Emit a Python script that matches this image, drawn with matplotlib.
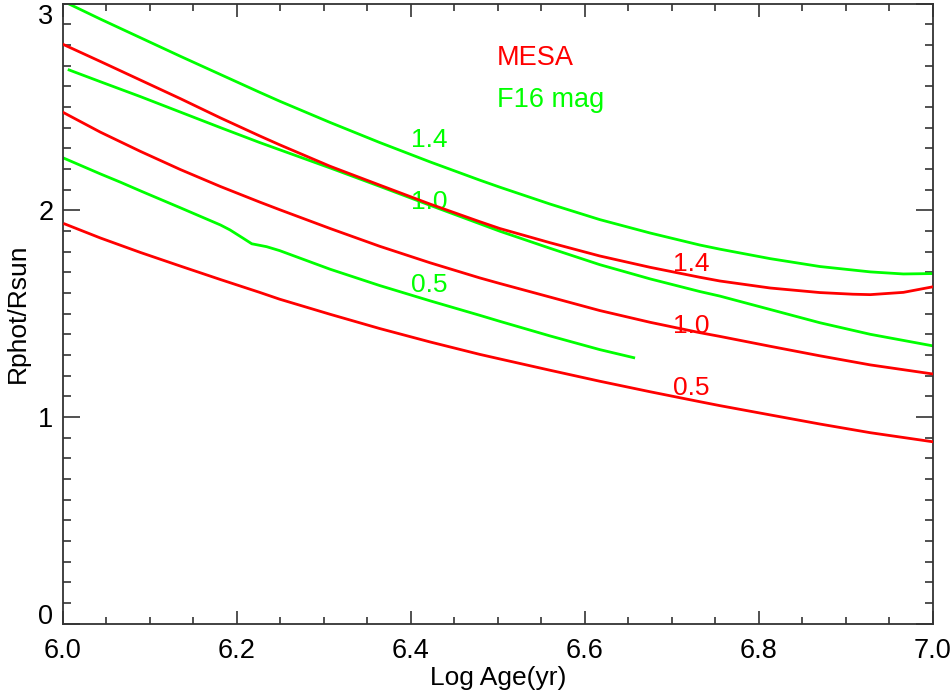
import matplotlib
matplotlib.use("Agg")
import matplotlib.pyplot as plt
from matplotlib.ticker import MultipleLocator, FixedLocator

plt.rcParams['font.family'] = ['Liberation Sans', 'DejaVu Sans']

# MESA tracks (red), log age vs Rphot/Rsun
mesa_14_x = [6.0, 6.043, 6.089, 6.135, 6.181, 6.226, 6.249, 6.307, 6.364, 6.422, 6.479,
             6.502, 6.560, 6.617, 6.675, 6.732, 6.755, 6.813, 6.870, 6.908, 6.928, 6.966, 7.0]
mesa_14_y = [2.803, 2.720, 2.630, 2.540, 2.447, 2.360, 2.317, 2.213, 2.122, 2.030, 1.945,
             1.912, 1.843, 1.779, 1.724, 1.676, 1.658, 1.624, 1.602, 1.594, 1.592, 1.603, 1.630]
mesa_10_x = [6.0, 6.043, 6.089, 6.135, 6.181, 6.226, 6.249, 6.307, 6.364, 6.422, 6.479,
             6.502, 6.560, 6.617, 6.675, 6.732, 6.755, 6.813, 6.870, 6.928, 7.0]
mesa_10_y = [2.474, 2.378, 2.285, 2.197, 2.115, 2.040, 2.003, 1.912, 1.826, 1.746, 1.673,
             1.646, 1.580, 1.515, 1.458, 1.408, 1.390, 1.342, 1.296, 1.252, 1.208]
mesa_05_x = [6.002, 6.043, 6.089, 6.135, 6.181, 6.226, 6.249, 6.307, 6.364, 6.422, 6.479,
             6.502, 6.560, 6.617, 6.675, 6.732, 6.755, 6.813, 6.870, 6.928, 7.0]
mesa_05_y = [1.934, 1.866, 1.796, 1.730, 1.665, 1.603, 1.570, 1.497, 1.428, 1.363, 1.303,
             1.281, 1.226, 1.173, 1.122, 1.074, 1.055, 1.010, 0.966, 0.924, 0.880]

# F16 magnetic tracks (green)
f16_14_x = [6.006, 6.043, 6.089, 6.135, 6.181, 6.226, 6.249, 6.307, 6.364, 6.422, 6.479,
            6.502, 6.560, 6.617, 6.675, 6.732, 6.755, 6.813, 6.870, 6.928, 6.966, 7.0]
f16_14_y = [3.000, 2.925, 2.835, 2.745, 2.657, 2.571, 2.528, 2.425, 2.328, 2.234, 2.146,
            2.112, 2.030, 1.955, 1.890, 1.832, 1.812, 1.766, 1.728, 1.702, 1.692, 1.694]
f16_10_x = [6.007, 6.043, 6.089, 6.135, 6.181, 6.226, 6.249, 6.307, 6.364, 6.422, 6.479,
            6.502, 6.560, 6.617, 6.675, 6.732, 6.755, 6.813, 6.870, 6.928, 7.0]
f16_10_y = [2.679, 2.622, 2.550, 2.475, 2.400, 2.328, 2.293, 2.205, 2.116, 2.024, 1.935,
            1.899, 1.816, 1.737, 1.668, 1.607, 1.585, 1.520, 1.456, 1.400, 1.344]
f16_05_x = [6.0, 6.043, 6.066, 6.089, 6.135, 6.181, 6.192, 6.207, 6.217, 6.234, 6.249,
            6.307, 6.364, 6.422, 6.479, 6.502, 6.560, 6.617, 6.656]
f16_05_y = [2.254, 2.176, 2.136, 2.094, 2.012, 1.929, 1.905, 1.865, 1.838, 1.824, 1.805,
            1.715, 1.636, 1.562, 1.492, 1.463, 1.392, 1.326, 1.287]

red = '#ff0000'
green = '#00ff00'

fig = plt.figure(figsize=(9.53, 6.92), dpi=100)
ax = fig.add_axes([0.0661, 0.0987, 0.9129, 0.8961])

for xs, ys in [(f16_14_x, f16_14_y), (f16_10_x, f16_10_y), (f16_05_x, f16_05_y)]:
    ax.plot(xs, ys, color=green, lw=2.0, zorder=2)
for xs, ys in [(mesa_14_x, mesa_14_y), (mesa_10_x, mesa_10_y), (mesa_05_x, mesa_05_y)]:
    ax.plot(xs, ys, color=red, lw=2.0, zorder=4)

# mass labels
for lab, y in [('1.4', 2.34), ('1.0', 2.04), ('0.5', 1.638)]:
    ax.text(6.4, y, lab, color=green, fontsize=19, va='center', zorder=3)
for lab, y in [('1.4', 1.74), ('1.0', 1.44), ('0.5', 1.14)]:
    ax.text(6.701, y, lab, color=red, fontsize=19, va='center', zorder=3)

ax.text(6.499, 2.737, 'MESA', color=red, fontsize=19.5, va='center')
ax.text(6.499, 2.534, 'F16 mag', color=green, fontsize=19.5, va='center')

ax.set_xlim(6.0, 7.0)
ax.set_ylim(0, 3)
ax.xaxis.set_major_locator(FixedLocator([6.0, 6.2, 6.4, 6.6, 6.8, 7.0]))
ax.xaxis.set_minor_locator(MultipleLocator(0.05))
ax.yaxis.set_major_locator(FixedLocator([0, 1, 2, 3]))
ax.yaxis.set_minor_locator(MultipleLocator(0.1))
ax.xaxis.set_major_formatter(plt.FormatStrFormatter('%.1f'))

ax.tick_params(which='both', direction='in', top=True, right=True, colors='#333333',
               labelcolor='black', labelsize=19.5, width=1.2)
ax.tick_params(axis='x', which='major', length=9.5, pad=10)
ax.tick_params(axis='x', which='minor', length=5)
ax.tick_params(axis='y', which='major', length=12, pad=7)
ax.tick_params(axis='y', which='minor', length=6)
for s in ax.spines.values():
    s.set_color('#333333')
    s.set_linewidth(1.3)

# keep the end labels of the y axis inside the frame
yticks = ax.yaxis.get_major_ticks()
yticks[0].label1.set_va('baseline')
yticks[-1].label1.set_va('top')

ax.set_xlabel('Log Age(yr)', fontsize=19, labelpad=2)
ax.set_ylabel('Rphot/Rsun', fontsize=19, labelpad=6)

fig.savefig('out.png', dpi=100)
